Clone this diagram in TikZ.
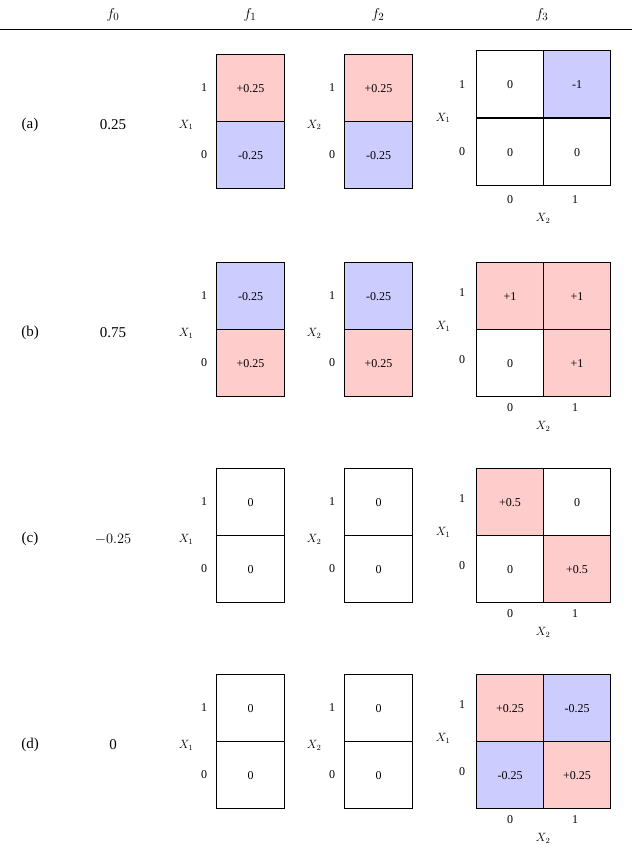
\documentclass[tikz,border=0pt]{standalone}
\usepackage{fontspec}
\setmainfont{Liberation Serif}
\definecolor{pk}{RGB}{255,204,204}
\definecolor{bl}{RGB}{204,204,255}
\begin{document}
\begin{tikzpicture}[x=1pt,y=-1pt,
  cell/.style={draw,line width=1.2pt,minimum width=68pt,minimum height=67pt,inner sep=0pt,font=\fontsize{12}{14}\selectfont},
  lab/.style={font=\fontsize{12}{14}\selectfont,inner sep=0pt},
  big/.style={font=\fontsize{15}{18}\selectfont,inner sep=0pt}]
\useasboundingbox (0,0) rectangle (632,848);
\node[big] (h0) at (113,15) {$f_0$};
\node[big] (h1) at (250,15) {$f_1$};
\node[big] (h2) at (378,15) {$f_2$};
\node[big] (h3) at (542,15) {$f_3$};
\draw[line width=1pt] (0,30) -- (632,30);
% args: y top of f1, label, f0, f1 top, f1 bot colours and texts, f3 cells
\newcommand\rowdraw[9]{%
  \node[big] (lab#2) at (30,#1+71) {(#2)};
  \node[big] (fz#2) at (113,#1+71) {#3};
  \foreach \xx/\v in {216/1,344/2}{
    \node[cell,fill=#4,anchor=north west] at (\xx,#1) {#5};
    \node[cell,fill=#6,anchor=north west] at (\xx,#1+67) {#7};
    \node[lab] at (\xx-12,#1+34) {1};
    \node[lab] at (\xx-12,#1+101) {0};
    \node[lab] at (\xx-30,#1+71) {$X_{\v}$};
  }
  \node[lab] at (462,#1+31) {1};
  \node[lab] at (462,#1+98) {0};
  \node[lab] at (443,#1+64) {$X_1$};
  \node[lab] at (510,#1+146) {0};
  \node[lab] at (575,#1+146) {1};
  \node[lab] at (543,#1+164) {$X_2$};
  #8#9}
\newcommand\fcell[4]{\node[cell,fill=#3,anchor=north west,minimum width=67pt] at (#1,#2) {#4};}
\rowdraw{54}{a}{0.25}{pk}{+0.25}{bl}{-0.25}{%
 \fcell{476}{50}{white}{0}\fcell{543}{50}{bl}{-1}}{\fcell{476}{118}{white}{0}\fcell{543}{118}{white}{0}}
\rowdraw{262}{b}{0.75}{bl}{-0.25}{pk}{+0.25}{%
 \fcell{476}{262}{pk}{+1}\fcell{543}{262}{pk}{+1}}{\fcell{476}{329}{white}{0}\fcell{543}{329}{pk}{+1}}
\rowdraw{468}{c}{$-0.25$}{white}{0}{white}{0}{%
 \fcell{476}{468}{pk}{+0.5}\fcell{543}{468}{white}{0}}{\fcell{476}{535}{white}{0}\fcell{543}{535}{pk}{+0.5}}
\rowdraw{674}{d}{0}{white}{0}{white}{0}{%
 \fcell{476}{674}{pk}{+0.25}\fcell{543}{674}{bl}{-0.25}}{\fcell{476}{741}{bl}{-0.25}\fcell{543}{741}{pk}{+0.25}}
\end{tikzpicture}
\end{document}
